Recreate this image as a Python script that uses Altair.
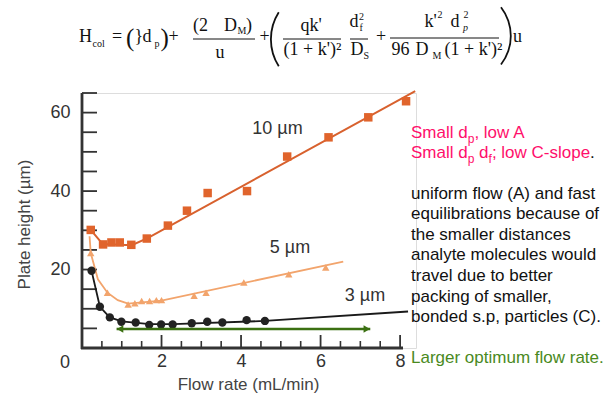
import altair as alt
import pandas as pd

# ---------------- data ----------------
x_10um = [0.22, 0.53, 0.74, 0.95, 1.24, 1.63, 2.16, 2.64, 3.16, 4.15, 5.16, 6.20, 7.20, 8.15]
y_10um = [30.1, 26.4, 26.9, 26.9, 26.3, 27.9, 31.2, 35.0, 39.5, 40.0, 48.8, 53.7, 58.8, 62.9]
fit_x_10um = [0.22, 0.52, 1.25, 1.65, 8.38]
fit_y_10um = [30.1, 26.5, 26.2, 28.0, 65.5]

x_5um = [0.22, 0.64, 1.16, 1.33, 1.50, 1.70, 1.87, 2.00, 2.82, 3.12, 4.07, 5.20, 6.13]
y_5um = [24.2, 14.1, 11.1, 11.4, 12.0, 12.0, 12.2, 12.2, 13.3, 14.1, 16.7, 18.8, 20.5]
fit_x_5um = [0.19, 0.22, 0.40, 0.64, 0.90, 1.16, 2.00, 6.57]
fit_y_5um = [28.5, 24.2, 17.5, 14.1, 12.2, 11.3, 12.1, 22.0]

x_3um = [0.24, 0.45, 0.70, 0.99, 1.35, 1.69, 1.99, 2.28, 2.76, 3.15, 3.53, 4.14, 4.60]
y_3um = [19.7, 10.5, 7.8, 6.7, 6.5, 5.9, 6.0, 6.0, 6.3, 6.7, 6.5, 7.1, 6.9]
fit_x_3um = [0.24, 0.45, 0.70, 1.00, 1.70, 2.30, 4.60, 8.20]
fit_y_3um = [19.7, 10.5, 7.8, 6.8, 6.1, 6.1, 6.9, 9.3]

arrow_x = [0.87, 7.25]
arrow_y = [4.85, 4.85]

x_ticks_major = [2, 4, 6, 8]
x_ticks_minor = [0.5, 1, 1.5, 2.5, 3, 3.5, 4.5, 5, 5.5, 6.5, 7, 7.5]
y_ticks = [5, 10, 15, 20, 25, 30, 35, 40, 45, 50, 55, 60, 65]
y_labels = [20, 40, 60]

paragraph = [
    "uniform flow (A) and fast",
    "equilibrations because of",
    "the smaller distances",
    "analyte molecules would",
    "travel due to better",
    "packing of smaller,",
    "bonded s.p, particles (C).",
]

# ---------------- layout ----------------
W, H = 334, 255          # plot area
X0, Y0 = 82, 93          # plot origin on the page
SANS = "Liberation Sans"
SERIF = "Liberation Serif"
ORANGE = "#E0642C"
LIGHT = "#F2A46C"
BLACK = "#222222"
PINK = "#FF0F6B"
GREEN_T = "#4A8A1E"
GREEN_A = "#3B7012"
AXC = "#333333"
EQ = 18                  # equation font size

xs = alt.Scale(domain=[0, 8.4], nice=False, zero=False)
ys = alt.Scale(domain=[0, 65], nice=False, zero=False)

xaxis = alt.Axis(values=x_ticks_major, format="d", domain=False, ticks=False, tickSize=0,
                 grid=False, labelFontSize=18, labelFont=SANS, labelColor=AXC,
                 labelPadding=4, labelFlush=False,
                 title="Flow rate (mL/min)", titleFont=SANS, titleFontSize=17,
                 titleFontWeight="normal", titleColor="#444444",
                 titleX=166, titleY=36, titleBaseline="middle")
yaxis = alt.Axis(values=y_labels, format="d", domain=False, ticks=False, tickSize=0,
                 grid=False, labelFontSize=18, labelFont=SANS, labelColor=AXC,
                 labelPadding=12,
                 title="Plate height (µm)", titleFont=SANS, titleFontSize=17,
                 titleFontWeight="normal", titleColor="#444444",
                 titleX=-58, titleY=131, titleBaseline="middle")

X = lambda f="x": alt.X(f"{f}:Q", scale=xs, axis=xaxis)
Y = lambda f="y": alt.Y(f"{f}:Q", scale=ys, axis=yaxis)

one = pd.DataFrame({"k": [0]})


def txt(s, ax, ay, size=EQ, font=SERIF, align="left", baseline="alphabetic",
        color="#111111", style="normal"):
    return alt.Chart(one).mark_text(
        text=s, font=font, fontSize=size, align=align, baseline=baseline,
        color=color, fontStyle=style
    ).encode(x=alt.value(ax - X0), y=alt.value(ay - Y0))


def bar(ax1, ax2, ay):
    return alt.Chart(one).mark_rule(color="#111111", strokeWidth=1).encode(
        x=alt.value(ax1 - X0), x2=alt.value(ax2 - X0), y=alt.value(ay - Y0))


def paren(cx, cy, r, t1, t2):
    return alt.Chart(one).mark_arc(
        radius=r, radius2=r - 1.8, theta=t1, theta2=t2, color="#111111"
    ).encode(x=alt.value(cx - X0), y=alt.value(cy - Y0))


layers = []

# axis lines and inward ticks
layers.append(alt.Chart(one).mark_rule(color=AXC, strokeWidth=2.8).encode(
    x=alt.value(0), y=alt.value(0), y2=alt.value(H + 1)))
layers.append(alt.Chart(one).mark_rule(color=AXC, strokeWidth=2.8).encode(
    y=alt.value(H), x=alt.value(-1), x2=alt.value(321)))
layers.append(alt.Chart(pd.DataFrame({"y": y_ticks})).mark_rule(color=AXC, strokeWidth=1.8).encode(
    y=Y(), x=alt.value(0), x2=alt.value(15)))
layers.append(alt.Chart(pd.DataFrame({"x": x_ticks_major})).mark_rule(color=AXC, strokeWidth=1.8).encode(
    x=X(), y=alt.value(H), y2=alt.value(H - 13)))
layers.append(alt.Chart(pd.DataFrame({"x": x_ticks_minor})).mark_rule(color=AXC, strokeWidth=1.6).encode(
    x=X(), y=alt.value(H), y2=alt.value(H - 7)))

# fitted curves
layers.append(alt.Chart(pd.DataFrame({"x": fit_x_10um, "y": fit_y_10um})).mark_line(
    color="#D8612E", strokeWidth=2).encode(x=X(), y=Y()))
layers.append(alt.Chart(pd.DataFrame({"x": fit_x_5um, "y": fit_y_5um})).mark_line(
    color=LIGHT, strokeWidth=1.8).encode(x=X(), y=Y()))
layers.append(alt.Chart(pd.DataFrame({"x": fit_x_3um, "y": fit_y_3um})).mark_line(
    color="#1A1A1A", strokeWidth=1.8).encode(x=X(), y=Y()))

# data points
layers.append(alt.Chart(pd.DataFrame({"x": x_10um, "y": y_10um})).mark_point(
    shape="square", filled=True, size=72, color=ORANGE, opacity=1).encode(x=X(), y=Y()))
layers.append(alt.Chart(pd.DataFrame({"x": x_5um, "y": y_5um})).mark_point(
    shape="triangle-up", filled=True, size=55, color=LIGHT, opacity=1).encode(x=X(), y=Y()))
layers.append(alt.Chart(pd.DataFrame({"x": x_3um, "y": y_3um})).mark_point(
    shape="circle", filled=True, size=70, color=BLACK, opacity=1).encode(x=X(), y=Y()))

# green double arrow
arrow_df = pd.DataFrame({"x": [arrow_x[0]], "x2": [arrow_x[1]], "y": [arrow_y[0]]})
layers.append(alt.Chart(arrow_df).mark_rule(color=GREEN_A, strokeWidth=2.5).encode(
    x=X(), x2="x2:Q", y=Y()))
layers.append(alt.Chart(pd.DataFrame({"x": [arrow_x[0]], "y": [arrow_y[0]]})).mark_point(
    shape="triangle-left", filled=True, size=55, color=GREEN_A, opacity=1, xOffset=3.5).encode(x=X(), y=Y()))
layers.append(alt.Chart(pd.DataFrame({"x": [arrow_x[1]], "y": [arrow_y[1]]})).mark_point(
    shape="triangle-right", filled=True, size=55, color=GREEN_A, opacity=1, xOffset=-3.5).encode(x=X(), y=Y()))

# series labels and origin label
layers.append(txt("10 µm", 277.5, 128.5, 18, SANS, "center", "middle", "#333333"))
layers.append(txt("5 µm", 290, 248, 18, SANS, "center", "middle", "#333333"))
layers.append(txt("3 µm", 365, 296, 18, SANS, "center", "middle", "#333333"))
layers.append(txt("0", 65, 363, 18, SANS, "center", "middle", AXC))

# right-hand annotations
LX = 411
layers.append(txt("Small d", LX, 132.5, 17, SANS, "left", "middle", PINK))
layers.append(txt("p", LX + 56.7, 138.5, 12, SANS, "left", "middle", PINK))
layers.append(txt(", low A", LX + 63.4, 132.5, 17, SANS, "left", "middle", PINK))
layers.append(txt("Small d", LX, 152.5, 17, SANS, "left", "middle", PINK))
layers.append(txt("p", LX + 56.7, 158.5, 12, SANS, "left", "middle", PINK))
layers.append(txt("d", LX + 68.1, 152.5, 17, SANS, "left", "middle", PINK))
layers.append(txt("f", LX + 77.6, 158.5, 12, SANS, "left", "middle", PINK))
layers.append(txt("; low C-slope", LX + 80.9, 152.5, 17, SANS, "left", "middle", PINK))
layers.append(txt(".", LX + 179.1, 152.5, 17, SANS, "left", "middle", "#111111"))
for i, line in enumerate(paragraph):
    layers.append(txt(line, LX, 193.5 + i * 20.65, 17, SANS, "left", "middle", "#111111"))
layers.append(txt("Larger optimum flow rate.", LX, 358, 17, SANS, "left", "middle", GREEN_T))

# equation
eq = [
    ("H", 79, 42, EQ), ("col", 92.5, 46.5, 10), ("=", 112, 42, EQ),
    ("(", 126, 46, 25), ("}", 134.5, 42, EQ), ("d", 142.5, 42, EQ), ("p", 154.5, 46.5, 10),
    (")", 160.5, 46, 25), ("+", 168.5, 42, EQ),
    ("(2", 193, 31, EQ), ("D", 224, 31, EQ), ("M", 237.5, 34, 10), (")", 246, 31, EQ),
    ("u", 215.5, 57.5, EQ), ("+", 259.5, 42, EQ),
    ("d", 349.5, 27, EQ), ("2", 359, 20, 10), ("f", 359.5, 31, 10),
    ("D", 350.5, 55, EQ), ("S", 363.5, 59, 10), ("+", 376, 42, EQ),
    ("k'", 424.5, 27, EQ), ("2", 437.5, 18, 10), ("d", 450.5, 27, EQ), ("2", 463.5, 18, 10),
    ("96", 391.5, 55, EQ), ("D", 415.5, 55, EQ), ("M", 432.5, 59, 10),
    ("(1 + k')²", 444.5, 55, EQ), ("u", 513, 42, EQ),
]
for s, ax, ay, sz in eq:
    layers.append(txt(s, ax, ay, sz))
layers.append(txt("p", 463, 31, 10, style="italic"))
layers.append(txt("qk'", 311, 31, EQ, align="center"))
layers.append(txt("(1 + k')²", 312.5, 55, EQ, align="center"))
layers.append(bar(193, 255, 39))
layers.append(bar(283, 341, 39))
layers.append(bar(350, 368, 39))
layers.append(bar(390, 499, 38))
layers.append(paren(321.3, 39.2, 51.3, 4.146, 5.278))
layers.append(paren(464.1, 35.9, 47.6, 0.911, 2.231))

chart = alt.layer(*layers).properties(
    width=W, height=H,
    autosize=alt.AutoSizeParams(type="none"),
    padding={"left": X0, "top": Y0, "right": 616 - X0 - W, "bottom": 402 - Y0 - H},
).configure_view(stroke=None).configure(background="white")

chart.save("out.html", embed_options={"renderer": "svg", "actions": False})
